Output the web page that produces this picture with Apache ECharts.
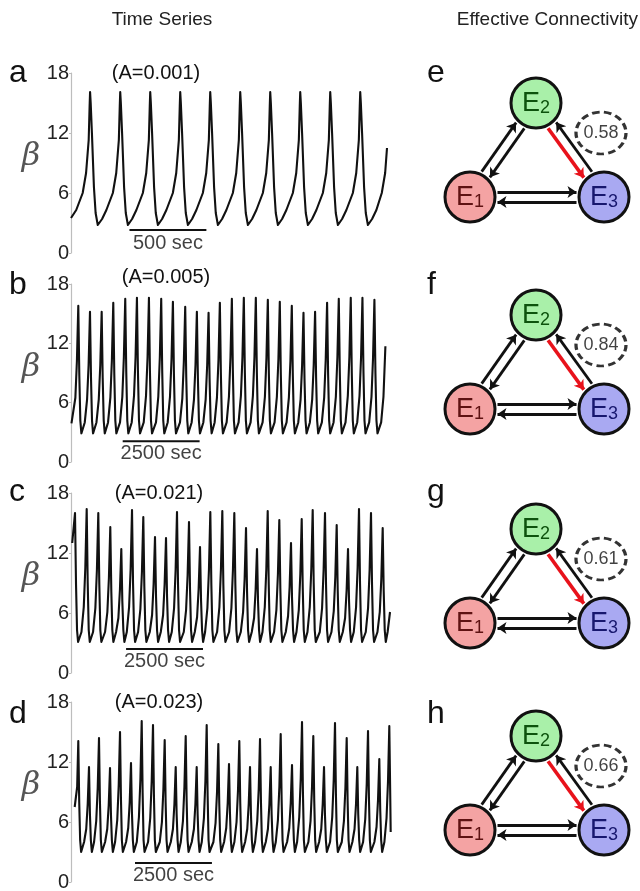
<!DOCTYPE html>
<html><head><meta charset="utf-8">
<script src="https://cdn.jsdelivr.net/npm/echarts@6/dist/echarts.min.js"></script>
<style>html,body{margin:0;padding:0;background:#fff}#c{width:640px;height:891px}</style>
</head><body><div id="c"></div><script>
// ---------------- data ----------------
const yTickValues = [0, 6, 12, 18];
const panelLetters = ['a', 'b', 'c', 'd'];
const paramLabels = ['(A=0.001)', '(A=0.005)', '(A=0.021)', '(A=0.023)'];
const scaleBarLabels = ['500 sec', '2500 sec', '2500 sec', '2500 sec'];
const scaleBarStart = [380, 1680, 1790, 2080];
const scaleBarLength = [500, 2500, 2500, 2500];

const seriesA = [[0,3.5],[34,4.3],[76,6.0],[98,8.0],[115,11.3],[121,14.7],[124,16.1],[128,15.0],[136,12.0],[149,6.6],[160,4.0],[174,2.8],
[202,3.4],[230,4.3],[272,6.0],[294,8.0],[311,11.3],[317,14.7],[320,16.1],[324,15.0],[332,12.0],[345,6.6],[356,4.0],[370,2.8],
[397,3.4],[425,4.3],[467,6.0],[489,8.0],[506,11.3],[512,14.7],[515,16.1],[519,15.0],[527,12.0],[540,6.6],[551,4.0],[565,2.8],
[592,3.4],[620,4.3],[662,6.0],[684,8.0],[701,11.3],[707,14.7],[710,16.1],[714,15.0],[722,12.0],[735,6.6],[746,4.0],[760,2.8],
[787,3.4],[815,4.3],[857,6.0],[879,8.0],[896,11.3],[902,14.7],[905,16.1],[909,15.0],[917,12.0],[930,6.6],[941,4.0],[955,2.8],
[982,3.4],[1010,4.3],[1052,6.0],[1074,8.0],[1091,11.3],[1097,14.7],[1100,16.1],[1104,15.0],[1112,12.0],[1125,6.6],[1136,4.0],[1150,2.8],
[1177,3.4],[1205,4.3],[1247,6.0],[1269,8.0],[1286,11.3],[1292,14.7],[1295,16.1],[1299,15.0],[1307,12.0],[1320,6.6],[1331,4.0],[1345,2.8],
[1372,3.4],[1400,4.3],[1442,6.0],[1464,8.0],[1481,11.3],[1487,14.7],[1490,16.1],[1494,15.0],[1502,12.0],[1515,6.6],[1526,4.0],[1540,2.8],
[1567,3.4],[1595,4.3],[1637,6.0],[1659,8.0],[1676,11.3],[1682,14.7],[1685,16.1],[1689,15.0],[1697,12.0],[1710,6.6],[1721,4.0],[1735,2.8],
[1762,3.4],[1790,4.3],[1832,6.0],[1854,8.0],[1871,11.3],[1877,14.7],[1880,16.1],[1884,15.0],[1892,12.0],[1905,6.6],[1916,4.0],[1930,2.8],
[1957,3.4],[1985,4.3],[2020,6.0],[2042,8.0],[2054,10.5]];

const seriesB = [[15,3.9],[142,6.5],[192,10.2],[237,15.8],[270,8.8],[303,4.2],[337,2.9],
[447,4.0],[522,6.3],[572,9.8],[617,15.2],[650,8.5],[683,4.2],[717,2.9],
[827,4.0],[902,6.3],[952,9.8],[997,15.2],[1030,8.5],[1063,4.2],[1097,2.9],
[1204,4.0],[1279,6.5],[1329,10.3],[1374,16.1],[1407,8.9],[1440,4.2],[1474,2.9],
[1593,4.0],[1668,6.6],[1718,10.6],[1763,16.5],[1796,9.1],[1829,4.2],[1863,2.9],
[1973,4.0],[2048,6.7],[2098,10.6],[2143,16.6],[2176,9.1],[2209,4.2],[2243,2.9],
[2363,4.0],[2438,6.7],[2488,10.6],[2533,16.6],[2566,9.1],[2599,4.2],[2633,2.9],
[2762,4.0],[2837,6.6],[2887,10.6],[2932,16.5],[2965,9.1],[2998,4.2],[3032,2.9],
[3142,4.0],[3217,6.6],[3267,10.4],[3312,16.2],[3345,8.9],[3378,4.2],[3412,2.9],
[3542,4.0],[3617,6.4],[3667,10.1],[3712,15.7],[3745,8.7],[3778,4.2],[3812,2.9],
[3921,4.0],[3996,6.3],[4046,9.8],[4091,15.2],[4124,8.5],[4157,4.2],[4191,2.9],
[4301,4.0],[4376,6.3],[4426,9.8],[4471,15.1],[4504,8.4],[4537,4.2],[4571,2.9],
[4668,4.0],[4743,6.5],[4793,10.3],[4838,16.1],[4871,8.9],[4904,4.2],[4938,2.9],
[5058,4.0],[5133,6.6],[5183,10.6],[5228,16.5],[5261,9.1],[5294,4.2],[5328,2.9],
[5447,4.0],[5522,6.7],[5572,10.6],[5617,16.6],[5650,9.1],[5683,4.2],[5717,2.9],
[5837,4.0],[5912,6.7],[5962,10.6],[6007,16.6],[6040,9.1],[6073,4.2],[6107,2.9],
[6227,4.0],[6302,6.6],[6352,10.5],[6397,16.4],[6430,9.0],[6463,4.2],[6497,2.9],
[6616,4.0],[6691,6.6],[6741,10.4],[6786,16.2],[6819,8.9],[6852,4.2],[6886,2.9],
[7006,4.0],[7081,6.5],[7131,10.2],[7176,15.8],[7209,8.8],[7242,4.2],[7276,2.9],
[7386,4.0],[7461,6.3],[7511,9.8],[7556,15.1],[7589,8.4],[7622,4.2],[7656,2.9],
[7763,4.0],[7838,6.3],[7888,9.8],[7933,15.2],[7966,8.5],[7999,4.2],[8033,2.9],
[8153,4.0],[8228,6.5],[8278,10.3],[8323,16.1],[8356,8.9],[8389,4.2],[8423,2.9],
[8533,4.0],[8608,6.6],[8658,10.6],[8703,16.5],[8736,9.1],[8769,4.2],[8803,2.9],
[8922,4.0],[8997,6.7],[9047,10.6],[9092,16.6],[9125,9.1],[9158,4.2],[9192,2.9],
[9302,4.0],[9377,6.7],[9427,10.6],[9472,16.6],[9505,9.1],[9538,4.2],[9572,2.9],
[9691,4.0],[9766,6.6],[9816,10.5],[9861,16.4],[9894,9.0],[9927,4.2],[9961,2.9],
[10080,4.0],[10155,6.6],[10218,11.7]];

const seriesC = [[40,13.0],[130,16.0],[163,8.9],[196,4.3],[230,3.1],
[340,4.1],[415,6.6],[465,10.5],[510,16.4],[543,9.0],[576,4.3],[610,3.1],
[717,4.1],[792,6.5],[842,10.3],[887,16.0],[920,8.9],[953,4.3],[987,3.1],
[1107,4.1],[1182,6.1],[1232,9.5],[1277,14.6],[1310,8.2],[1343,4.3],[1377,3.1],
[1465,4.1],[1540,5.5],[1590,8.3],[1635,12.4],[1668,7.2],[1701,4.3],[1735,3.1],
[1813,4.1],[1888,6.6],[1938,10.4],[1983,16.3],[2016,9.0],[2049,4.3],[2083,3.1],
[2180,4.1],[2255,6.4],[2305,10.1],[2350,15.6],[2383,8.7],[2416,4.3],[2450,3.1],
[2560,4.1],[2635,5.8],[2685,8.9],[2730,13.6],[2763,7.7],[2796,4.3],[2830,3.1],
[2918,4.1],[2993,5.8],[3043,8.9],[3088,13.5],[3121,7.7],[3154,4.3],[3188,3.1],
[3275,4.1],[3350,6.5],[3400,10.3],[3445,16.1],[3478,8.9],[3511,4.3],[3545,3.1],
[3665,4.1],[3740,6.3],[3790,9.8],[3835,15.1],[3868,8.4],[3901,4.3],[3935,3.1],
[4023,4.1],[4098,5.6],[4148,8.4],[4193,12.6],[4226,7.3],[4259,4.3],[4293,3.1],
[4358,4.1],[4433,6.5],[4483,10.3],[4528,16.1],[4561,8.9],[4594,4.3],[4628,3.1],
[4748,4.1],[4823,6.6],[4873,10.4],[4918,16.2],[4951,8.9],[4984,4.3],[5018,3.1],
[5138,4.1],[5213,6.5],[5263,10.3],[5308,16.0],[5341,8.9],[5374,4.3],[5408,3.1],
[5518,4.1],[5593,6.1],[5643,9.4],[5688,14.5],[5721,8.2],[5754,4.3],[5788,3.1],
[5875,4.1],[5950,5.5],[6000,8.3],[6045,12.4],[6078,7.2],[6111,4.3],[6145,3.1],
[6223,4.1],[6298,6.6],[6348,10.4],[6393,16.2],[6426,8.9],[6459,4.3],[6493,3.1],
[6600,4.1],[6675,6.3],[6725,9.9],[6770,15.3],[6803,8.5],[6836,4.3],[6870,3.1],
[6980,4.1],[7055,5.7],[7105,8.6],[7150,13.0],[7183,7.5],[7216,4.3],[7250,3.1],
[7328,4.1],[7403,6.3],[7453,9.9],[7498,15.4],[7531,8.6],[7564,4.3],[7598,3.1],
[7685,4.1],[7760,6.6],[7810,10.4],[7855,16.3],[7888,9.0],[7921,4.3],[7955,3.1],
[8085,4.1],[8160,6.5],[8210,10.3],[8255,16.0],[8288,8.9],[8321,4.3],[8355,3.1],
[8465,4.1],[8540,6.2],[8590,9.6],[8635,14.8],[8668,8.3],[8701,4.3],[8735,3.1],
[8833,4.1],[8908,5.5],[8958,8.3],[9003,12.4],[9036,7.2],[9069,4.3],[9103,3.1],
[9190,4.1],[9265,6.6],[9315,10.5],[9360,16.4],[9393,9.0],[9426,4.3],[9460,3.1],
[9580,4.1],[9655,6.5],[9705,10.3],[9750,16.0],[9783,8.9],[9816,4.3],[9850,3.1],
[9960,4.1],[10035,6.1],[10085,9.4],[10130,14.5],[10163,8.2],[10196,4.3],[10230,3.1],
[10290,4.1],[10368,6.1]];

const seriesD = [[120,7.5],[200,9.5],[237,14.1],[267,8.0],[297,4.2],[329,3.0],
[425,4.0],[495,5.3],[543,7.8],[585,11.5],[615,6.8],[645,4.2],[677,3.0],
[750,4.0],[820,6.1],[868,9.4],[910,14.4],[940,8.1],[970,4.2],[1002,3.0],
[1108,4.0],[1178,5.3],[1226,7.7],[1268,11.4],[1298,6.8],[1328,4.2],[1360,3.0],
[1433,4.0],[1503,6.2],[1551,9.7],[1593,15.0],[1623,8.4],[1653,4.2],[1685,3.0],
[1790,4.0],[1860,5.4],[1908,8.0],[1950,11.9],[1980,7.0],[2010,4.2],[2042,3.0],
[2138,4.0],[2208,6.5],[2256,10.3],[2298,16.1],[2328,8.9],[2358,4.2],[2390,3.0],
[2505,4.0],[2575,6.4],[2623,10.1],[2665,15.7],[2695,8.7],[2725,4.2],[2757,3.0],
[2885,4.0],[2955,6.0],[3003,9.3],[3045,14.2],[3075,8.0],[3105,4.2],[3137,3.0],
[3243,4.0],[3313,5.3],[3361,7.8],[3403,11.5],[3433,6.8],[3463,4.2],[3495,3.0],
[3568,4.0],[3638,6.1],[3686,9.5],[3728,14.6],[3758,8.2],[3788,4.2],[3820,3.0],
[3925,4.0],[3995,5.3],[4043,7.8],[4085,11.5],[4115,6.8],[4145,4.2],[4177,3.0],
[4250,4.0],[4320,6.4],[4368,10.1],[4410,15.7],[4440,8.7],[4470,4.2],[4502,3.0],
[4628,4.0],[4698,5.9],[4746,9.0],[4788,13.8],[4818,7.9],[4848,4.2],[4880,3.0],
[4975,4.0],[5045,5.4],[5093,7.9],[5135,11.8],[5165,7.0],[5195,4.2],[5227,3.0],
[5310,4.0],[5380,6.0],[5428,9.2],[5470,14.1],[5500,8.0],[5530,4.2],[5562,3.0],
[5658,4.0],[5728,5.3],[5776,7.8],[5818,11.5],[5848,6.8],[5878,4.2],[5910,3.0],
[5983,4.0],[6053,6.1],[6101,9.3],[6143,14.3],[6173,8.1],[6203,4.2],[6235,3.0],
[6330,4.0],[6400,5.3],[6448,7.8],[6490,11.5],[6520,6.8],[6550,4.2],[6582,3.0],
[6655,4.0],[6725,6.2],[6773,9.6],[6815,14.8],[6845,8.3],[6875,4.2],[6907,3.0],
[7023,4.0],[7093,5.4],[7141,7.9],[7183,11.7],[7213,7.0],[7243,4.2],[7275,3.0],
[7348,4.0],[7418,6.5],[7466,10.3],[7508,16.0],[7538,8.9],[7568,4.2],[7600,3.0],
[7715,4.0],[7785,6.1],[7833,9.5],[7875,14.6],[7905,8.2],[7935,4.2],[7967,3.0],
[8063,4.0],[8133,5.3],[8181,7.8],[8223,11.5],[8253,6.8],[8283,4.2],[8315,3.0],
[8420,4.0],[8490,6.5],[8538,10.2],[8580,15.9],[8610,8.8],[8640,4.2],[8672,3.0],
[8800,4.0],[8870,6.1],[8918,9.4],[8960,14.4],[8990,8.1],[9020,4.2],[9052,3.0],
[9145,4.0],[9215,5.3],[9263,7.8],[9305,11.5],[9335,6.8],[9365,4.2],[9397,3.0],
[9493,4.0],[9563,6.3],[9611,9.8],[9653,15.1],[9683,8.4],[9713,4.2],[9745,3.0],
[9860,4.0],[9930,5.5],[9978,8.2],[10020,12.3],[10050,7.2],[10080,4.2],[10112,3.0],
[10185,4.0],[10255,6.4],[10303,10.1],[10345,15.6],[10375,8.7],[10390,5.0]];

const netLetters = ['e', 'f', 'g', 'h'];
const nodeNames = ['E1', 'E2', 'E3'];
const edgeWeights = ['0.58', '0.84', '0.61', '0.66'];
// directed edges [from, to, side]; highlighted edge is E2 -> E3
const edgeList = [[0, 1, 1], [1, 0, 1], [0, 2, 1], [2, 0, 1], [1, 2, -1], [2, 1, -1]];
const highlightedEdge = 4;

// ---------------- layout / style ----------------
const FONT = 'Liberation Sans, Arial, sans-serif';
const TS_LEFT = 71, TS_WIDTH = 320;
const TS_TOP = [73, 284, 493, 702];
const TS_HEIGHT = [180, 178, 180, 180];
const TS_XMAX = [2080, 10400, 10400, 10400];
const BAR_Y = [2.3, 2.1, 2.4, 1.9];
const BAR_TEXT_Y = [1.0, 0.85, 1.2, 0.7];
const PARAM_POS = [[156, 73], [166, 277], [159, 493], [159, 702]];
const LETTER_Y = [73, 285, 492, 714];
const NET_LEFT = 400, NET_W = 240, NET_H = 200;
const NET_TOP = [43, 255, 469, 676];
const NODE_POS = [[70, 46], [136, 140], [204, 46]];
const ELLIPSE_POS = [201, 110];
const NODE_FILL = ['#f4a3a3', '#a9f0a9', '#a9a9f2'];
const NODE_TEXT = ['#5e1212', '#0d520d', '#17176e'];
const allSeries = [seriesA, seriesB, seriesC, seriesD];

function arrowCoords(from, to, side) {
  const p = NODE_POS[from], q = NODE_POS[to];
  const dx = q[0] - p[0], dy = q[1] - p[1], L = Math.hypot(dx, dy);
  const ux = dx / L, uy = dy / L, nx = -uy * side, ny = ux * side;
  const d = 5, s = 27.5;
  return [[p[0] + ux * s + nx * d, p[1] + uy * s + ny * d],
          [q[0] - ux * s + nx * d, q[1] - uy * s + ny * d]];
}

const grid = [], xAxis = [], yAxis = [], series = [], graphic = [];

graphic.push({ type: 'text', x: 162, y: 20, style: { text: 'Time Series', font: '19px ' + FONT, fill: '#222', align: 'center', verticalAlign: 'middle' } });
graphic.push({ type: 'text', x: 638, y: 20, style: { text: 'Effective Connectivity', font: '19px ' + FONT, fill: '#222', align: 'right', verticalAlign: 'middle' } });

for (let k = 0; k < 4; k++) {
  grid.push({ left: TS_LEFT, top: TS_TOP[k], width: TS_WIDTH, height: TS_HEIGHT[k], outerBoundsMode: 'none' });
  xAxis.push({ type: 'value', gridIndex: k, min: 0, max: TS_XMAX[k], show: false });
  yAxis.push({ type: 'value', gridIndex: k, min: yTickValues[0], max: yTickValues[yTickValues.length - 1],
    interval: yTickValues[1] - yTickValues[0],
    axisLine: { show: true, lineStyle: { color: '#bdbdbd', width: 1.2 } },
    axisTick: { show: true, length: 2, lineStyle: { color: '#bdbdbd' } },
    splitLine: { show: false },
    axisLabel: { fontSize: 20, color: '#222', margin: 2, fontFamily: FONT } });
  series.push({ type: 'line', xAxisIndex: k, yAxisIndex: k, data: allSeries[k], symbol: 'none', showSymbol: false,
    lineStyle: { color: '#111', width: 2.1, join: 'round' }, animation: false, silent: true, z: 3 });
  series.push({ type: 'line', xAxisIndex: k, yAxisIndex: k,
    data: [[scaleBarStart[k], BAR_Y[k]], [scaleBarStart[k] + scaleBarLength[k], BAR_Y[k]]],
    symbol: 'none', lineStyle: { color: '#111', width: 2 }, animation: false, silent: true });
  series.push({ type: 'scatter', xAxisIndex: k, yAxisIndex: k, symbolSize: 1, itemStyle: { color: 'rgba(0,0,0,0)' },
    data: [[scaleBarStart[k] + scaleBarLength[k] / 2, BAR_TEXT_Y[k]]],
    label: { show: true, position: 'inside', formatter: scaleBarLabels[k], fontSize: 20, color: '#111', fontFamily: FONT },
    animation: false, silent: true });
  graphic.push({ type: 'text', x: 9, y: LETTER_Y[k], style: { text: panelLetters[k], font: '32px ' + FONT, fill: '#111', align: 'left', verticalAlign: 'middle' } });
  graphic.push({ type: 'text', x: PARAM_POS[k][0], y: PARAM_POS[k][1], style: { text: paramLabels[k], font: '20px ' + FONT, fill: '#111', align: 'center', verticalAlign: 'middle' } });
  graphic.push({ type: 'text', x: 31, y: TS_TOP[k] + 84, style: { text: 'β', font: 'italic 32px "DejaVu Serif", serif', fill: '#555', align: 'center', verticalAlign: 'middle' } });
}

for (let k = 0; k < 4; k++) {
  const gi = 4 + k;
  grid.push({ left: NET_LEFT, top: NET_TOP[k], width: NET_W, height: NET_H, outerBoundsMode: 'none' });
  xAxis.push({ type: 'value', gridIndex: gi, min: 0, max: NET_W, show: false });
  yAxis.push({ type: 'value', gridIndex: gi, min: 0, max: NET_H, show: false });
  const black = [], red = [];
  edgeList.forEach((e, i) => {
    const item = { coords: arrowCoords(e[0], e[1], e[2]) };
    (i === highlightedEdge ? red : black).push(item);
  });
  series.push({ type: 'lines', coordinateSystem: 'cartesian2d', xAxisIndex: gi, yAxisIndex: gi,
    symbol: ['none', 'arrow'], symbolSize: 9, data: black,
    lineStyle: { color: '#111', width: 2.8, opacity: 1, curveness: 0 }, animation: false, silent: true, z: 2 });
  series.push({ type: 'lines', coordinateSystem: 'cartesian2d', xAxisIndex: gi, yAxisIndex: gi,
    symbol: ['none', 'arrow'], symbolSize: 9, data: red,
    lineStyle: { color: '#e8121b', width: 3.6, opacity: 1, curveness: 0 }, animation: false, silent: true, z: 2 });
  series.push({ type: 'scatter', xAxisIndex: gi, yAxisIndex: gi, symbol: 'circle', symbolSize: [50, 42],
    data: [{ value: ELLIPSE_POS }],
    itemStyle: { color: 'rgba(255,255,255,0)', borderColor: '#000', borderWidth: 3, borderType: [7, 4] },
    label: { show: true, position: 'inside', formatter: edgeWeights[k], fontSize: 18, color: '#111', fontFamily: FONT },
    animation: false, silent: true, z: 3 });
  series.push({ type: 'scatter', xAxisIndex: gi, yAxisIndex: gi, symbol: 'circle', symbolSize: 50,
    data: NODE_POS.map((p, i) => ({
      value: p,
      itemStyle: { color: NODE_FILL[i], borderColor: '#111', borderWidth: 3, opacity: 1 },
      label: { show: true, position: 'inside', formatter: '{b|' + nodeNames[i][0] + '}{s|' + nodeNames[i].slice(1) + '}',
        rich: { b: { fontSize: 27, lineHeight: 28, verticalAlign: 'bottom', color: NODE_TEXT[i], fontFamily: FONT },
                s: { fontSize: 18, lineHeight: 19, verticalAlign: 'bottom', color: NODE_TEXT[i], fontFamily: FONT } } }
    })),
    animation: false, silent: true, z: 4 });
  graphic.push({ type: 'text', x: 427, y: LETTER_Y[k], style: { text: netLetters[k], font: '32px ' + FONT, fill: '#111', align: 'left', verticalAlign: 'middle' } });
}

const chart = echarts.init(document.getElementById('c'), null, { renderer: 'canvas' });
chart.setOption({
  backgroundColor: '#fff',
  animation: false,
  textStyle: { fontFamily: FONT },
  grid, xAxis, yAxis, series, graphic
});
</script></body></html>
